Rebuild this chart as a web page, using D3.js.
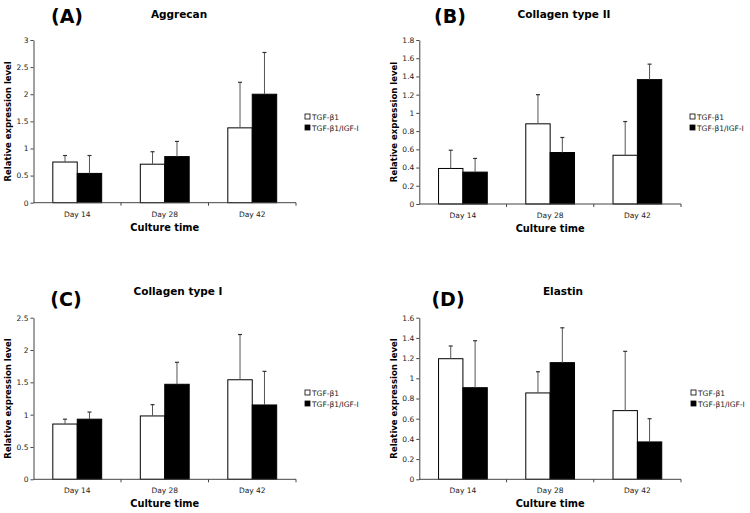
<!DOCTYPE html>
<html><head><meta charset="utf-8">
<script src="https://cdn.jsdelivr.net/npm/d3@7"></script>
<style>body{margin:0;background:#fff}svg{display:block}</style>
</head><body>
<svg id="c" width="750" height="513"></svg>
<script>
// ---- data ----
const categories = ["Day 14", "Day 28", "Day 42"];
const seriesNames = ["TGF-β1", "TGF-β1/IGF-I"];
const panelLetters = ["(A)", "(B)", "(C)", "(D)"];
const panelTitles = ["Aggrecan", "Collagen type II", "Collagen type I", "Elastin"];

const aggrecanTGF = [0.75, 0.71, 1.38];
const aggrecanTGFErr = [0.12, 0.23, 0.84];
const aggrecanIGF = [0.54, 0.85, 2.0];
const aggrecanIGFErr = [0.33, 0.28, 0.77];
const aggrecanTicks = [0, 0.5, 1, 1.5, 2, 2.5, 3];

const col2TGF = [0.39, 0.88, 0.535];
const col2TGFErr = [0.20, 0.32, 0.37];
const col2IGF = [0.35, 0.565, 1.365];
const col2IGFErr = [0.15, 0.165, 0.17];
const col2Ticks = [0, 0.2, 0.4, 0.6, 0.8, 1, 1.2, 1.4, 1.6, 1.8];

const col1TGF = [0.855, 0.98, 1.54];
const col1TGFErr = [0.075, 0.175, 0.70];
const col1IGF = [0.93, 1.47, 1.15];
const col1IGFErr = [0.11, 0.34, 0.52];
const col1Ticks = [0, 0.5, 1, 1.5, 2, 2.5];

const elastinTGF = [1.194, 0.855, 0.68];
const elastinTGFErr = [0.126, 0.21, 0.587];
const elastinIGF = [0.907, 1.155, 0.37];
const elastinIGFErr = [0.465, 0.345, 0.23];
const elastinTicks = [0, 0.2, 0.4, 0.6, 0.8, 1, 1.2, 1.4, 1.6];

// ---- drawing ----
const svg = d3.select("#c");
const FONT = "DejaVu Sans, Verdana, sans-serif";

function drawPanel(idx, vals, errs, ticks, lay) {
  const g = svg.append("g");
  const x = d3.scaleBand().domain(categories).range([lay.x0, lay.x1]).padding(0);
  const xs = d3.scaleBand().domain(seriesNames).range([0, x.bandwidth()]).paddingInner(0).paddingOuter(0.79);
  const y = d3.scaleLinear().domain([0, ticks[ticks.length - 1]]).range([lay.yb, lay.yt]);

  // bars
  seriesNames.forEach((s, si) => {
    const gs = g.append("g");
    gs.selectAll("rect").data(categories).join("rect")
      .attr("x", c => x(c) + xs(s))
      .attr("y", (c, i) => y(vals[si][i]))
      .attr("width", xs.bandwidth())
      .attr("height", (c, i) => y(0) - y(vals[si][i]))
      .attr("fill", si === 0 ? "#fff" : "#000")
      .attr("stroke", "#000").attr("stroke-width", 1);
    // error bars (upper only)
    gs.selectAll("line.e").data(categories).join("line").attr("class", "e")
      .attr("x1", c => x(c) + xs(s) + xs.bandwidth() / 2)
      .attr("x2", c => x(c) + xs(s) + xs.bandwidth() / 2)
      .attr("y1", (c, i) => y(vals[si][i]))
      .attr("y2", (c, i) => y(vals[si][i] + errs[si][i]))
      .attr("stroke", "#555").attr("stroke-width", 1);
    gs.selectAll("line.cap").data(categories).join("line").attr("class", "cap")
      .attr("x1", c => x(c) + xs(s) + xs.bandwidth() / 2 - 2)
      .attr("x2", c => x(c) + xs(s) + xs.bandwidth() / 2 + 2)
      .attr("y1", (c, i) => y(vals[si][i] + errs[si][i]))
      .attr("y2", (c, i) => y(vals[si][i] + errs[si][i]))
      .attr("stroke", "#333").attr("stroke-width", 1.2);
  });

  // y axis
  const ya = g.append("g").attr("transform", `translate(${lay.x0},0)`)
    .call(d3.axisLeft(y).tickValues(ticks).tickSize(3).tickSizeOuter(0).tickFormat(d3.format("~g")));
  ya.select(".domain").attr("stroke", "#444");
  ya.selectAll(".tick line").attr("stroke", "#444");
  ya.selectAll("text").attr("font-family", FONT).attr("font-size", 7.5).attr("fill", "#222").attr("x", -5);

  // x axis
  const xa = g.append("g").attr("transform", `translate(0,${lay.yb})`);
  xa.append("line").attr("x1", lay.x0).attr("x2", lay.x1).attr("y1", 0).attr("y2", 0).attr("stroke", "#444");
  xa.selectAll("line.t").data(categories).join("line").attr("class", "t")
    .attr("x1", c => x(c) + x.bandwidth()).attr("x2", c => x(c) + x.bandwidth())
    .attr("y1", 0).attr("y2", 3).attr("stroke", "#444");
  xa.selectAll("text").data(categories).join("text")
    .attr("x", c => x(c) + x.bandwidth() / 2).attr("y", 14)
    .attr("text-anchor", "middle").attr("font-family", FONT).attr("font-size", 7.5).attr("fill", "#222")
    .text(c => c);

  // axis titles
  g.append("text").attr("x", (lay.x0 + lay.x1) / 2).attr("y", lay.yb + 28)
    .attr("text-anchor", "middle").attr("font-family", FONT).attr("font-weight", "bold")
    .attr("font-size", 9.8).text("Culture time");
  g.append("text").attr("transform", `translate(${lay.x0 - 22.5},${(lay.yt + lay.yb) / 2}) rotate(-90)`)
    .attr("text-anchor", "middle").attr("font-family", FONT).attr("font-weight", "bold")
    .attr("font-size", 8.5).text("Relative expression level");

  // titles
  g.append("text").attr("x", lay.lx).attr("y", lay.ly).attr("text-anchor", "middle")
    .attr("font-family", FONT).attr("font-weight", "bold").attr("font-size", 19).text(panelLetters[idx]);
  g.append("text").attr("x", lay.tx).attr("y", lay.ty).attr("text-anchor", "middle")
    .attr("font-family", FONT).attr("font-weight", "bold").attr("font-size", 10.5).text(panelTitles[idx]);

  // legend
  const lg = g.append("g").attr("transform", `translate(${lay.legx},${lay.legy})`);
  seriesNames.forEach((s, si) => {
    lg.append("rect").attr("x", 0).attr("y", si * 11 - 3).attr("width", 5).attr("height", 5)
      .attr("fill", si === 0 ? "#fff" : "#000").attr("stroke", "#000").attr("stroke-width", 0.8);
    lg.append("text").attr("x", 7).attr("y", si * 11 + 2.5)
      .attr("font-family", FONT).attr("font-size", 7.5).attr("fill", "#222").text(s);
  });
}

drawPanel(0, [aggrecanTGF, aggrecanIGF], [aggrecanTGFErr, aggrecanIGFErr], aggrecanTicks,
  {x0: 33.5, x1: 296, yt: 40, yb: 202.7, lx: 67, ly: 23, tx: 179, ty: 18, legx: 305, legy: 117});
drawPanel(1, [col2TGF, col2IGF], [col2TGFErr, col2IGFErr], col2Ticks,
  {x0: 419.3, x1: 681, yt: 40, yb: 204, lx: 450, ly: 23, tx: 564, ty: 18, legx: 690, legy: 117});
drawPanel(2, [col1TGF, col1IGF], [col1TGFErr, col1IGFErr], col1Ticks,
  {x0: 33.5, x1: 296, yt: 317.7, yb: 479.3, lx: 66, ly: 306, tx: 178, ty: 295, legx: 305, legy: 393});
drawPanel(3, [elastinTGF, elastinIGF], [elastinTGFErr, elastinIGFErr], elastinTicks,
  {x0: 419.3, x1: 681, yt: 317.7, yb: 479.3, lx: 448, ly: 306, tx: 563, ty: 295, legx: 691, legy: 393});
</script>
</body></html>
